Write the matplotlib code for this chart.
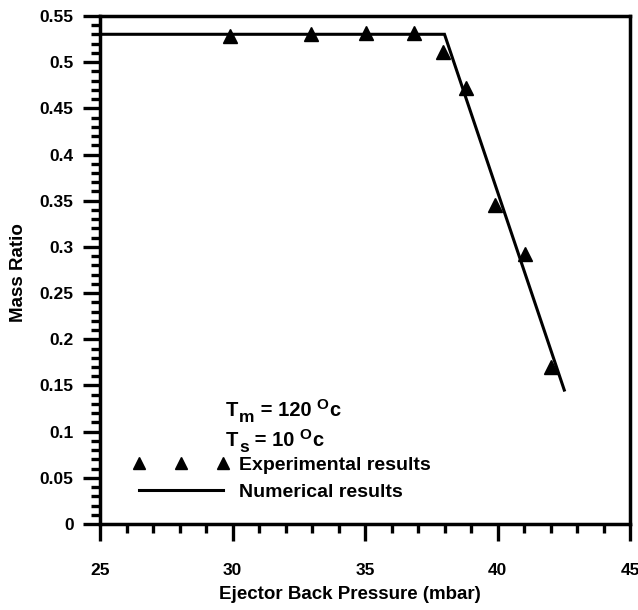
import matplotlib
matplotlib.use("Agg")
import matplotlib.pyplot as plt
from matplotlib.ticker import MultipleLocator, FuncFormatter
from matplotlib.lines import Line2D
from matplotlib.legend_handler import HandlerLine2D

plt.rcParams['font.family'] = ['Liberation Sans', 'DejaVu Sans']
plt.rcParams['font.weight'] = 'bold'

# Experimental data
exp_x = [29.9, 32.96, 35.03, 36.86, 37.93, 38.82, 39.91, 41.02, 42.01]
exp_y = [0.528, 0.5305, 0.532, 0.532, 0.5114, 0.4717, 0.3454, 0.2923, 0.1703]

# Numerical results
num_x = [25.0, 38.0, 42.52]
num_y = [0.5302, 0.5302, 0.145]

fig = plt.figure(figsize=(6.38, 6.10), dpi=100)
ax = fig.add_axes([100/638, 1-524/610, 530/638, 508/610])

ax.plot(num_x, num_y, color='black', lw=2.2, solid_joinstyle='miter')
ax.plot(exp_x, exp_y, linestyle='none', marker='^', ms=10.5, color='black')

ax.set_xlim(25, 45)
ax.set_ylim(0, 0.55)

ax.xaxis.set_major_locator(MultipleLocator(5))
ax.xaxis.set_minor_locator(MultipleLocator(1))
ax.yaxis.set_major_locator(MultipleLocator(0.05))
ax.yaxis.set_minor_locator(MultipleLocator(0.01))
ax.yaxis.set_major_formatter(FuncFormatter(
    lambda v, p: ('%.2f' % v).rstrip('0').rstrip('.') if abs(v) > 1e-9 else '0'))

for s in ax.spines.values():
    s.set_linewidth(2.5)

ax.tick_params(which='major', direction='out', length=12, width=2.4, labelsize=12.5)
ax.tick_params(which='minor', direction='out', length=6.5, width=2.4)
ax.tick_params(axis='x', which='major', pad=16)
ax.tick_params(axis='y', which='major', pad=7)
ax.tick_params(top=False, right=False, which='both')
for lab in ax.get_xticklabels() + ax.get_yticklabels():
    lab.set_fontweight('bold')

ax.set_xlabel('Ejector Back Pressure (mbar)', fontsize=13.5, fontweight='bold')
ax.xaxis.set_label_coords((350-100)/530, -(599-524)/508)
ax.xaxis.label.set_va('baseline')
ax.set_ylabel('Mass Ratio', fontsize=13.5, fontweight='bold')
ax.yaxis.set_label_coords(-(100-18)/530, (524-273)/508)
ax.yaxis.label.set_va('center')


def condition_text(x, y, main, sub, value):
    kw = dict(textcoords='offset points', fontweight='bold', va='bottom', ha='left')
    t = ax.text(x, y, main, transform=ax.transAxes, fontsize=14.5,
                fontweight='bold', va='baseline', ha='left')
    s = ax.annotate(sub, xy=(1, 0), xycoords=t, xytext=(0.5, -3.5),
                    fontsize=12.5, **kw)
    v = ax.annotate(' = ' + value + ' ', xy=(1, 0), xycoords=s, xytext=(0, 3.5),
                    fontsize=14.5, **kw)
    o = ax.annotate('O', xy=(1, 0), xycoords=v, xytext=(0, 6),
                    fontsize=11, **kw)
    ax.annotate('c', xy=(1, 0), xycoords=o, xytext=(0.5, -6),
                fontsize=14.5, **kw)


condition_text((226-100)/530, (524-416)/508, 'T', 'm', '120')
condition_text((226-100)/530, (524-446)/508, 'T', 's', '10')

h1 = Line2D([], [], linestyle='none', marker='^', ms=8.5, color='black')
h2 = Line2D([], [], color='black', lw=2.2)
leg = ax.legend([h1, h2], ['Experimental results', 'Numerical results'],
                loc='upper left', bbox_to_anchor=((139-100)/530, (524-456)/508),
                frameon=False, numpoints=3, handlelength=4.3, handletextpad=0.85,
                borderpad=0, borderaxespad=0, labelspacing=0.5,
                handler_map={Line2D: HandlerLine2D(marker_pad=0, numpoints=3)},
                prop={'size': 14, 'weight': 'bold'})

fig.savefig('out.png', dpi=100)
